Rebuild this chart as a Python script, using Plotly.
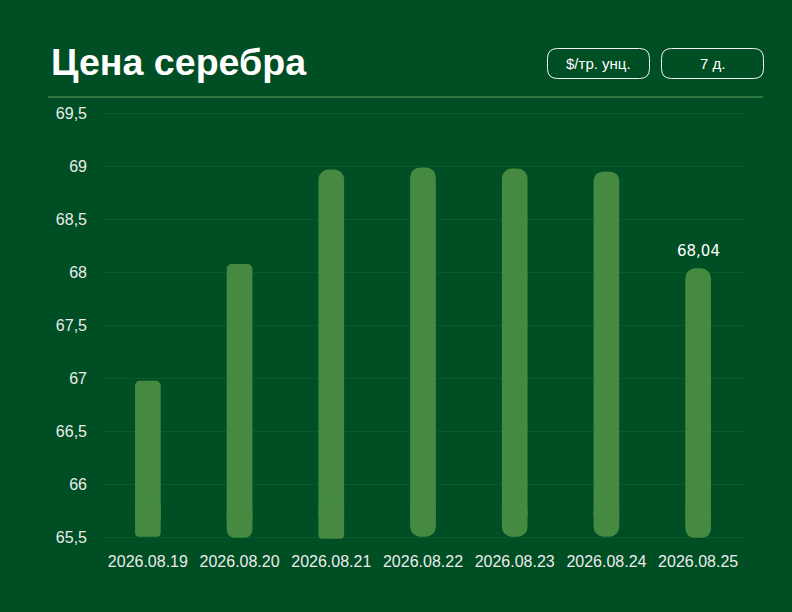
import plotly.graph_objects as go

# ---- data ----
dates = ["2026.08.19", "2026.08.20", "2026.08.21", "2026.08.22",
         "2026.08.23", "2026.08.24", "2026.08.25"]
high_vals = [66.98, 68.08, 68.97, 68.99, 68.98, 68.95, 68.04]
low_vals = [65.51, 65.50, 65.49, 65.51, 65.51, 65.51, 65.50]
y_ticks = [65.5, 66, 66.5, 67, 67.5, 68, 68.5, 69, 69.5]
title_text = "Цена серебра"
button_labels = ["$/тр. унц.", "7 д."]

# ---- style ----
BG = "#004e24"
BAR = "#468a42"
GRID = "#0a5a2b"
SEP = "#5f9c5b"
TXT = "#ececec"
top_radius = [5, 5, 10, 10, 10, 9, 10]
bottom_radius = [4, 8, 4, 10, 10, 10, 9]
JOIN_LO, JOIN_HI = 0.12, 0.33   # overlap zone of the two bar pieces (axis units above low)
W, H = 792, 612
ML, MR, MT, MB = 102, 48, 100, 67
X0, X1 = ML, W - MR
Y0, Y1 = MT, H - MB


def px_x(p):
    return (p - X0) / (X1 - X0)


def px_y(p):
    return (Y1 - p) / (Y1 - Y0)


def rrect(x0, y0, x1, y1, r):
    def P(a, b):
        return f"{px_x(a):.5f},{px_y(b):.5f}"
    return (f"M {P(x0 + r, y0)} L {P(x1 - r, y0)} Q {P(x1, y0)} {P(x1, y0 + r)} "
            f"L {P(x1, y1 - r)} Q {P(x1, y1)} {P(x1 - r, y1)} "
            f"L {P(x0 + r, y1)} Q {P(x0, y1)} {P(x0, y1 - r)} "
            f"L {P(x0, y0 + r)} Q {P(x0, y0)} {P(x0 + r, y0)} Z")


fig = go.Figure()
for i, d in enumerate(dates):
    a = low_vals[i] + JOIN_LO
    b = low_vals[i] + JOIN_HI
    # upper piece: rounded at the high end
    fig.add_trace(go.Bar(x=[d], y=[high_vals[i] - a], base=[a], width=0.28,
                         marker=dict(color=BAR, line=dict(width=0), cornerradius=top_radius[i]),
                         hoverinfo="skip", showlegend=False))
    # lower piece: rounded at the low end
    fig.add_trace(go.Bar(x=[d], y=[low_vals[i] - b], base=[b], width=0.28,
                         marker=dict(color=BAR, line=dict(width=0), cornerradius=bottom_radius[i]),
                         hoverinfo="skip", showlegend=False))

shapes = [
    dict(type="line", xref="paper", yref="paper", x0=px_x(48), x1=px_x(763),
         y0=px_y(97), y1=px_y(97), line=dict(color=SEP, width=1)),
    dict(type="path", xref="paper", yref="paper", path=rrect(547.5, 48.5, 649.5, 78.5, 10),
         line=dict(color="#f2f2f2", width=1), fillcolor="rgba(0,0,0,0)"),
    dict(type="path", xref="paper", yref="paper", path=rrect(661.5, 48.5, 763.5, 78.5, 10),
         line=dict(color="#f2f2f2", width=1), fillcolor="rgba(0,0,0,0)"),
]

annotations = [
    dict(text=f"<b>{title_text}</b>", xref="paper", yref="paper", x=px_x(49), y=px_y(62),
         xanchor="left", yanchor="middle", showarrow=False,
         font=dict(family="Liberation Sans", size=37.6, color="#ffffff")),
    dict(text=button_labels[0], xref="paper", yref="paper", x=px_x(598.5), y=px_y(64),
         xanchor="center", yanchor="middle", showarrow=False,
         font=dict(family="Liberation Sans", size=15, color="#ffffff")),
    dict(text=button_labels[1], xref="paper", yref="paper", x=px_x(712.5), y=px_y(64),
         xanchor="center", yanchor="middle", showarrow=False,
         font=dict(family="Liberation Sans", size=15, color="#ffffff")),
    dict(text=f"{high_vals[-1]:.2f}".replace(".", ","), x=dates[-1], y=high_vals[-1],
         xref="x", yref="y", xanchor="center", yanchor="bottom", yshift=6, showarrow=False,
         font=dict(family="DejaVu Sans", size=15, color="#ffffff")),
]

fig.update_layout(
    width=W, height=H,
    margin=dict(l=ML, r=MR, t=MT, b=MB, pad=0),
    paper_bgcolor=BG, plot_bgcolor=BG,
    barmode="overlay",
    separators=", ",
    shapes=shapes,
    annotations=annotations,
    font=dict(family="Liberation Sans", size=16, color=TXT),
    xaxis=dict(type="category", showgrid=False, zeroline=False, showline=False,
               ticks="", tickfont=dict(size=16, color=TXT), ticklabelstandoff=5,
               fixedrange=True),
    yaxis=dict(range=[65.432, 69.625], tickvals=y_ticks, showgrid=True, gridcolor=GRID,
               gridwidth=1, zeroline=False, showline=False, ticks="",
               tickfont=dict(size=16, color=TXT), ticklabelstandoff=14, fixedrange=True),
)

fig.write_html("out.html", config={"displayModeBar": False},
               post_script="document.body.style.margin='0';document.body.style.background='" + BG + "';")
